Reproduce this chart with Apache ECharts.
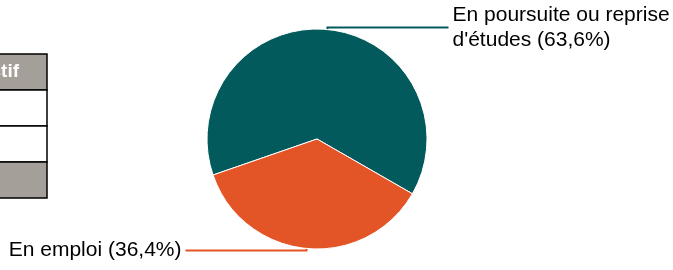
<!DOCTYPE html>
<html>

<head>
  <meta charset="utf-8" />
  <title>ECharts</title>
  <script src="https://cdn.jsdelivr.net/npm/echarts@6.0.0/dist/echarts.min.js"></script>
</head>
<style>
  body {
    margin: 0;
    padding: 0;
    overflow: hidden;
    background: #fff;
  }
</style>

<body>
  <div id="main" style="width: 673px;height: 270px;"></div>
  <script type="text/javascript">
    // catégories et parts (%)
    const categories = ["En poursuite ou reprise d'études", 'En emploi'];
    const shares = [63.6, 36.4];
    const sliceColors = ['#025a5c', '#e35427'];
    // entête du tableau (coupé à gauche)
    const tableHeader = 'Effectif';

    const myChart = echarts.init(document.getElementById('main'));

    function frenchPct(v) {
      return v.toFixed(1).replace('.', ',') + '%';
    }

    // coupe les libellés longs avant le dernier mot
    function wrapName(name) {
      if (name.length < 24) return name;
      const k = name.lastIndexOf(' ');
      return name.slice(0, k) + '\n' + name.slice(k + 1);
    }

    const pieData = categories.map((name, i) => ({
      name: name,
      value: shares[i],
      itemStyle: { color: sliceColors[i] },
      labelLine: { lineStyle: { color: sliceColors[i] } }
    }));

    // petit tableau à gauche, en partie hors du cadre
    const rowY = [54, 90, 126, 162, 198];
    const tableEls = [];
    const fills = ['#a59f99', '#fff', '#fff', '#a59f99'];
    for (let i = 0; i < 4; i++) {
      tableEls.push({
        type: 'rect',
        shape: { x: -10, y: rowY[i], width: 57, height: rowY[i + 1] - rowY[i] },
        style: { fill: fills[i], stroke: '#000', lineWidth: 1.5 }
      });
    }
    tableEls.push({
      type: 'text',
      x: 19, y: 72,
      style: {
        text: tableHeader,
        fill: '#fff',
        font: 'bold 19px "Liberation Sans", Arial, sans-serif',
        align: 'right',
        verticalAlign: 'middle'
      }
    });

    const option = {
      animation: false,
      graphic: tableEls,
      series: [{
        type: 'pie',
        center: [317, 139],
        radius: 110,
        startAngle: 199.1,
        clockwise: true,
        avoidLabelOverlap: false,
        itemStyle: { borderColor: '#fff', borderWidth: 1 },
        label: {
          show: true,
          formatter: p => wrapName(p.name) + ' (' + frenchPct(p.value) + ')',
          fontFamily: '"Liberation Sans", Arial, sans-serif',
          fontSize: 21,
          lineHeight: 25,
          color: '#000',
          distanceToLabelLine: 4
        },
        labelLine: {
          show: true,
          length: 2,
          length2: 121,
          lineStyle: { width: 2 }
        },
        emphasis: { disabled: true },
        data: pieData
      }]
    };
    myChart.setOption(option);
  </script>
</body>

</html>
